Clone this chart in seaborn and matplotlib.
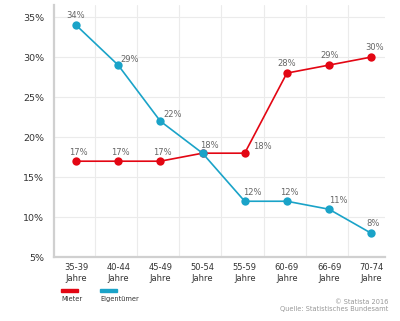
import matplotlib
matplotlib.use("Agg")
import matplotlib.pyplot as plt
import seaborn as sns
import pandas as pd
from matplotlib.patches import Rectangle

categories = ["35-39\nJahre", "40-44\nJahre", "45-49\nJahre", "50-54\nJahre",
              "55-59\nJahre", "60-69\nJahre", "66-69\nJahre", "70-74\nJahre"]
mieter = [17, 17, 17, 18, 18, 28, 29, 30]
eigentuemer = [34, 29, 22, 18, 12, 12, 11, 8]
series_names = ["Mieter", "Eigentümer"]
colors = ["#e30613", "#1aa3c8"]
y_ticks = [5, 10, 15, 20, 25, 30, 35]

df = pd.DataFrame({
    "Altersgruppe": categories * 2,
    "Anteil": mieter + eigentuemer,
    "Gruppe": [series_names[0]] * len(categories) + [series_names[1]] * len(categories),
})

sns.set_theme(style="white")
plt.rcParams['font.family'] = ['DejaVu Sans']

fig = plt.figure(figsize=(4.0, 3.21), dpi=100)
ax = fig.add_axes([0.135, 0.1984, 0.828, 0.786])

sns.lineplot(data=df, x="Altersgruppe", y="Anteil", hue="Gruppe", hue_order=series_names,
             palette=colors, marker="o", markersize=6, markeredgewidth=0,
             linewidth=1.2, sort=False, legend=False, ax=ax)

ax.set_xlim(-0.52, 7.33)
ax.set_ylim(5, 36.5)
ax.set_yticks(y_ticks)
ax.set_yticklabels([f"{v}%" for v in y_ticks], fontsize=6.8, color="#333333")
ax.set_xticks(range(len(categories)))
ax.set_xticklabels(categories, fontsize=6, color="#333333", linespacing=1.25)
ax.set_xlabel("")
ax.set_ylabel("")
ax.tick_params(axis="both", length=0, pad=4)
ax.tick_params(axis="y", pad=7)

# grid
for v in y_ticks[1:]:
    ax.axhline(v, color="#ebebeb", lw=0.8, zorder=0)
for i in range(len(categories) - 1):
    ax.axvline(i + 0.45, color="#ebebeb", lw=0.8, zorder=0)

for s in ["top", "right"]:
    ax.spines[s].set_visible(False)
for s in ["left", "bottom"]:
    ax.spines[s].set_color("#d0d0d0")
    ax.spines[s].set_linewidth(1.6)

# data labels (pixel offsets)
m_off = [(2, 9), (2, 9), (2, 9), None, (18, 7), (0, 10), (1, 10), (3, 10)]
e_off = [(0, 10), (12, 6), (12, 7), (7, 8), (8, 9), (2, 9), (9, 9), (2, 10)]
for vals, offs in [(mieter, m_off), (eigentuemer, e_off)]:
    for i, (v, o) in enumerate(zip(vals, offs)):
        if o is None:
            continue
        ax.annotate(f"{v}%", (i, v), xytext=o, textcoords="offset pixels",
                    ha="center", va="center", fontsize=6, color="#666666")

# legend
for k, (name, c) in enumerate(zip(series_names, colors)):
    x0 = 61 + k * 39
    fig.patches.append(Rectangle((x0 / 400, 1 - 292 / 321), 17 / 400, 3.5 / 321,
                                 transform=fig.transFigure, color=c, figure=fig))
    fig.text(x0 / 400, 1 - 299 / 321, name, fontsize=4.8, color="#333333",
             ha="left", va="center")

fig.text(388 / 400, 1 - 302 / 321, "© Statista 2016", fontsize=4.8, color="#999999",
         ha="right", va="center")
fig.text(388 / 400, 1 - 309.5 / 321, "Quelle: Statistisches Bundesamt", fontsize=4.8,
         color="#999999", ha="right", va="center")

fig.savefig("out.png", dpi=100)
